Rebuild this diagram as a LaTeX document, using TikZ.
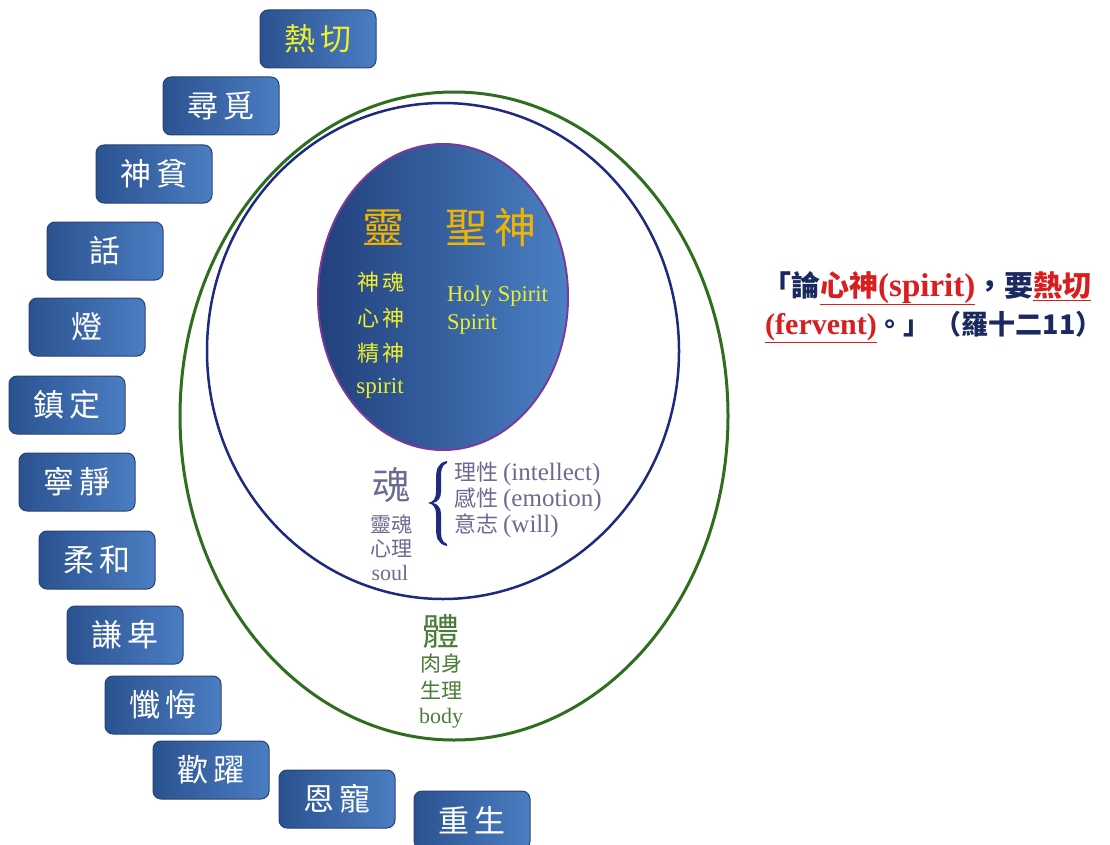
\documentclass[tikz,border=0pt]{standalone}
\usepackage{fontspec}
\setmainfont{Liberation Serif}
\newfontfamily\cjk{Noto Sans CJK TC}
\definecolor{boxL}{HTML}{2B5290}
\definecolor{boxR}{HTML}{4B7DC2}
\definecolor{boxEdge}{HTML}{2A4272}
\definecolor{outerG}{HTML}{2F6E1F}
\definecolor{midN}{HTML}{1E2A80}
\definecolor{innL}{HTML}{22407C}
\definecolor{innR}{HTML}{4A80C4}
\definecolor{innEdge}{HTML}{7A3A9A}
\definecolor{gold}{HTML}{F0B400}
\definecolor{yel}{HTML}{EEF02A}
\definecolor{soulC}{HTML}{6A6A92}
\definecolor{bodyC}{HTML}{4C7C3A}
\definecolor{qnavy}{HTML}{1A2A60}
\definecolor{qred}{HTML}{D81E1E}
\newcommand\qcjk{\cjk\fontsize{29}{29}\selectfont}
\newcommand\qcjkb{\cjk\fontsize{27}{27}\selectfont}
\begin{document}
\begin{tikzpicture}[x=1pt,y=-1pt,
  vbox/.style={rounded corners=8pt, minimum width=116pt, minimum height=58pt,
    draw=boxEdge, line width=1pt, left color=boxL, right color=boxR,
    text=white, font=\cjk\fontsize{31}{31}\selectfont, inner sep=0pt},
  ytxt/.style={text=yel, font=\cjk\fontsize{22}{22}\selectfont, inner sep=0pt},
  gtxt/.style={text=gold, font=\cjk\fontsize{42}{42}\selectfont, inner sep=0pt},
  stxt/.style={text=soulC, font=\cjk\fontsize{21}{21}\selectfont, inner sep=0pt},
  btxt/.style={text=bodyC, font=\cjk\fontsize{21}{21}\selectfont, inner sep=0pt},
  qtxt/.style={font=\fontsize{30}{30}\selectfont\bfseries, inner sep=0pt, anchor=west}
]
\useasboundingbox (0,0) rectangle (1110,845);
% ellipses
\draw[outerG, line width=3pt] (454,416) ellipse [x radius=274, y radius=324];
\draw[midN, line width=2.5pt] (443,351) ellipse [x radius=236, y radius=248];
\draw[innEdge, line width=2pt, left color=innL, right color=innR] (443,297) ellipse [x radius=125, y radius=153];
% spirit text
\node[gtxt] (ling) at (383,228) {靈};
\node[gtxt] (hs) at (491,228) {聖\,神};
\node[ytxt] (s1) at (381,282) {神\,魂};
\node[ytxt] (s2) at (381,318) {心\,神};
\node[ytxt] (s3) at (381,353) {精\,神};
\node[ytxt, font=\fontsize{23}{23}\selectfont] (s4) at (380,388) {spirit};
\node[ytxt, font=\fontsize{22.5}{22.5}\selectfont, anchor=west] (hs1) at (447,296) {Holy Spirit};
\node[ytxt, font=\fontsize{22.5}{22.5}\selectfont, anchor=west] (hs2) at (447,324) {Spirit};
% soul text
\node[stxt, font=\cjk\fontsize{38}{38}\selectfont] (hun) at (391,485) {魂};
\node[stxt] (so1) at (391,525) {靈魂};
\node[stxt] (so2) at (391,549) {心理};
\node[stxt, font=\fontsize{22}{22}\selectfont] (so3) at (390,573) {soul};
% brace
\fill[midN] (447,461) .. controls (437,463) and (436,470) .. (436,480) -- (436,492)
  .. controls (436,499) and (433,502) .. (428,503)
  .. controls (433,504) and (436,507) .. (436,514) -- (436,527)
  .. controls (436,537) and (437,544) .. (447,546)
  -- (447,544) .. controls (441,542) and (441,536) .. (441,527) -- (441,514)
  .. controls (441,508) and (438,504) .. (433,503)
  .. controls (438,502) and (441,498) .. (441,492) -- (441,480)
  .. controls (441,471) and (441,465) .. (447,463) -- cycle;
\node[stxt, font=\cjk\fontsize{22}{22}\selectfont, anchor=west] (f1) at (454,474) {理性 {\rmfamily\fontsize{25}{25}\selectfont (intellect)}};
\node[stxt, font=\cjk\fontsize{22}{22}\selectfont, anchor=west] (f2) at (454,500) {感性 {\rmfamily\fontsize{25}{25}\selectfont (emotion)}};
\node[stxt, font=\cjk\fontsize{22}{22}\selectfont, anchor=west] (f3) at (454,526) {意志 {\rmfamily\fontsize{25}{25}\selectfont (will)}};
% body text
\node[btxt, font=\cjk\fontsize{37}{37}\selectfont] (ti) at (441,631) {體};
\node[btxt] (b1) at (441,664) {肉身};
\node[btxt] (b2) at (441,690) {生理};
\node[btxt, font=\fontsize{22}{22}\selectfont] (b3) at (441,718) {body};
% boxes
\node[vbox, text=yel] (k1) at (318,39) {熱\,切};
\node[vbox] (k2) at (221,106) {尋\,覓};
\node[vbox] (k3) at (154,174) {神\,貧};
\node[vbox] (k4) at (105,251) {話};
\node[vbox] (k5) at (87,327) {燈};
\node[vbox] (k6) at (67,405) {鎮\,定};
\node[vbox] (k7) at (77,482) {寧\,靜};
\node[vbox] (k8) at (97,560) {柔\,和};
\node[vbox] (k9) at (125,635) {謙\,卑};
\node[vbox] (k10) at (163,705) {懺\,悔};
\node[vbox] (k11) at (211,770) {歡\,躍};
\node[vbox] (k12) at (337,799) {恩\,寵};
\node[vbox] (k13) at (472,820) {重\,生};
% quote
\node[qtxt, font=\fontsize{33}{33}\selectfont\bfseries] (q1) at (762,288) {\color{qnavy}{\qcjk 「論}\color{qred}\underline{{\qcjk 心神}(spirit)}\color{qnavy}{\qcjk ，要}\color{qred}\underline{\qcjk 熱切}};
\node[qtxt] (q2) at (765,327) {\color{qred}\underline{(fervent)}\color{qnavy}{\qcjkb 。」\hspace{4pt}（羅十二11）}};
\end{tikzpicture}
\end{document}
